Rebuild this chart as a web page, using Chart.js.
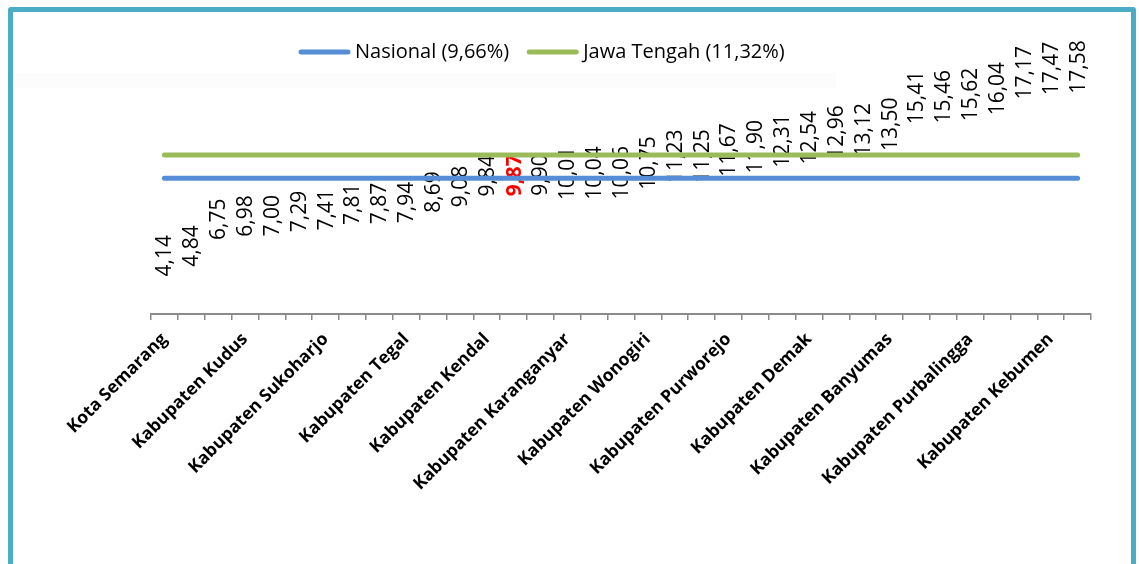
<!DOCTYPE html>
<html>
<head>
<meta charset="utf-8">
<script src="https://cdn.jsdelivr.net/npm/chart.js@4.4.1/dist/chart.umd.min.js"></script>
<style>
  html, body { margin: 0; padding: 0; background: #fff; overflow: hidden; }
  #wrap { position: relative; width: 1139px; height: 564px; }
  #chart { position: absolute; left: 0; top: 0; }
  .frame {
    position: absolute; left: 8px; top: 7px; width: 1128px; height: 620px;
    box-sizing: border-box; border: 5px solid #4BACC6; border-radius: 3px;
    pointer-events: none;
  }
  .ghost { position: absolute; left: 14px; top: 73px; width: 822px; height: 15px; background: #fcfcfc; }
</style>
</head>
<body>
<div id="wrap">
  <div class="ghost"></div>
  <canvas id="chart" width="1139" height="564"></canvas>
  <div class="frame"></div>
</div>
<script>
const CATEGORIES = [
  'Kota Semarang', 'Kota Salatiga', 'Kota Pekalongan', 'Kabupaten Kudus', 'Kabupaten Jepara',
  'Kabupaten Semarang', 'Kabupaten Sukoharjo', 'Kota Tegal', 'Kota Magelang', 'Kabupaten Tegal',
  'Kabupaten Batang', 'Kota Surakarta', 'Kabupaten Kendal', 'Kabupaten Temanggung', 'Kabupaten Pekalongan',
  'Kabupaten Karanganyar', 'Kabupaten Cilacap', 'Kabupaten Boyolali', 'Kabupaten Wonogiri', 'Kabupaten Pati',
  'Kabupaten Magelang', 'Kabupaten Purworejo', 'Kabupaten Blora', 'Kabupaten Grobogan', 'Kabupaten Demak',
  'Kabupaten Klaten', 'Kabupaten Sragen', 'Kabupaten Banyumas', 'Kabupaten Banjarnegara', 'Kabupaten Rembang',
  'Kabupaten Purbalingga', 'Kabupaten Pemalang', 'Kabupaten Brebes', 'Kabupaten Kebumen', 'Kabupaten Wonosobo'
];
const VALUES = [
  4.14, 4.84, 6.75, 6.98, 7.00, 7.29, 7.41, 7.81, 7.87, 7.94,
  8.69, 9.08, 9.84, 9.87, 9.90, 10.01, 10.04, 10.06, 10.75, 11.23,
  11.25, 11.67, 11.90, 12.31, 12.54, 12.96, 13.12, 13.50, 15.41, 15.46,
  15.62, 16.04, 17.17, 17.47, 17.58
];
const HIGHLIGHT = 'Kabupaten Temanggung';
const NASIONAL = 9.66;
const JATENG = 11.32;
const LINE_LABELS = ['Nasional (9,66%)', 'Jawa Tengah (11,32%)'];

const FONT = "'Open Sans', 'DejaVu Sans', sans-serif";
const fmt = v => v.toFixed(2).replace('.', ',');

// vertical value labels, drawn right after the (invisible) bars so the lines cover them
const valueLabels = {
  id: 'valueLabels',
  afterDatasetDraw(chart, args) {
    if (args.index !== 0) return;
    const ctx = chart.ctx;
    args.meta.data.forEach((el, i) => {
      const hl = CATEGORIES[i] === HIGHLIGHT;
      ctx.save();
      ctx.translate(el.x, el.y);
      ctx.rotate(-Math.PI / 2);
      ctx.font = (hl ? 'bold ' : '') + '21px ' + FONT;
      ctx.fillStyle = hl ? '#FF0000' : '#000';
      ctx.textAlign = 'center';
      ctx.textBaseline = 'middle';
      ctx.fillText(fmt(VALUES[i]), 0, 1);
      ctx.restore();
    });
  }
};

// legend with rounded line markers
const lineLegend = {
  id: 'lineLegend',
  afterDraw(chart) {
    const ctx = chart.ctx;
    let x = 301;
    const y = 52;
    ctx.save();
    ctx.font = '20px ' + FONT;
    ctx.textBaseline = 'middle';
    chart.data.datasets.slice(1).forEach(ds => {
      ctx.strokeStyle = ds.borderColor;
      ctx.lineWidth = 5;
      ctx.lineCap = 'round';
      ctx.beginPath();
      ctx.moveTo(x, y);
      ctx.lineTo(x + 47, y);
      ctx.stroke();
      ctx.fillStyle = '#000';
      ctx.fillText(ds.label, x + 54, y);
      x += 54 + ctx.measureText(ds.label).width + 20;
    });
    ctx.restore();
  }
};

new Chart(document.getElementById('chart'), {
  type: 'bar',
  data: {
    labels: CATEGORIES,
    datasets: [
      {
        label: 'Persentase',
        data: VALUES,
        backgroundColor: 'rgba(0,0,0,0)',
        order: 2
      },
      {
        type: 'line',
        label: LINE_LABELS[0],
        data: [{ x: CATEGORIES[0], y: NASIONAL }, { x: CATEGORIES[CATEGORIES.length - 1], y: NASIONAL }],
        borderColor: '#558ED5',
        borderWidth: 5,
        borderCapStyle: 'round',
        pointRadius: 0,
        order: 1
      },
      {
        type: 'line',
        label: LINE_LABELS[1],
        data: [{ x: CATEGORIES[0], y: JATENG }, { x: CATEGORIES[CATEGORIES.length - 1], y: JATENG }],
        borderColor: '#9BBB59',
        borderWidth: 5,
        borderCapStyle: 'round',
        pointRadius: 0,
        order: 1
      }
    ]
  },
  options: {
    responsive: false,
    animation: false,
    layout: { padding: { left: 151, right: 48, top: 33, bottom: 0 } },
    plugins: {
      legend: { display: false },
      tooltip: { enabled: false }
    },
    scales: {
      y: { display: false, min: 0, max: 20 },
      x: {
        offset: true,
        grid: { display: true, drawOnChartArea: false, offset: true, tickLength: 6, color: '#8a8a8a', lineWidth: 1.5 },
        border: { display: true, color: '#8a8a8a', width: 2 },
        ticks: {
          autoSkip: false,
          minRotation: 45,
          maxRotation: 45,
          padding: 9,
          color: '#000',
          font: { family: FONT, size: 17.5, weight: 'bold' },
          callback: (v, i) => (i % 3 === 0 ? CATEGORIES[i] : '')
        },
        afterFit: s => { s.height = 250; }
      }
    }
  },
  plugins: [valueLabels, lineLegend]
});
</script>
</body>
</html>
